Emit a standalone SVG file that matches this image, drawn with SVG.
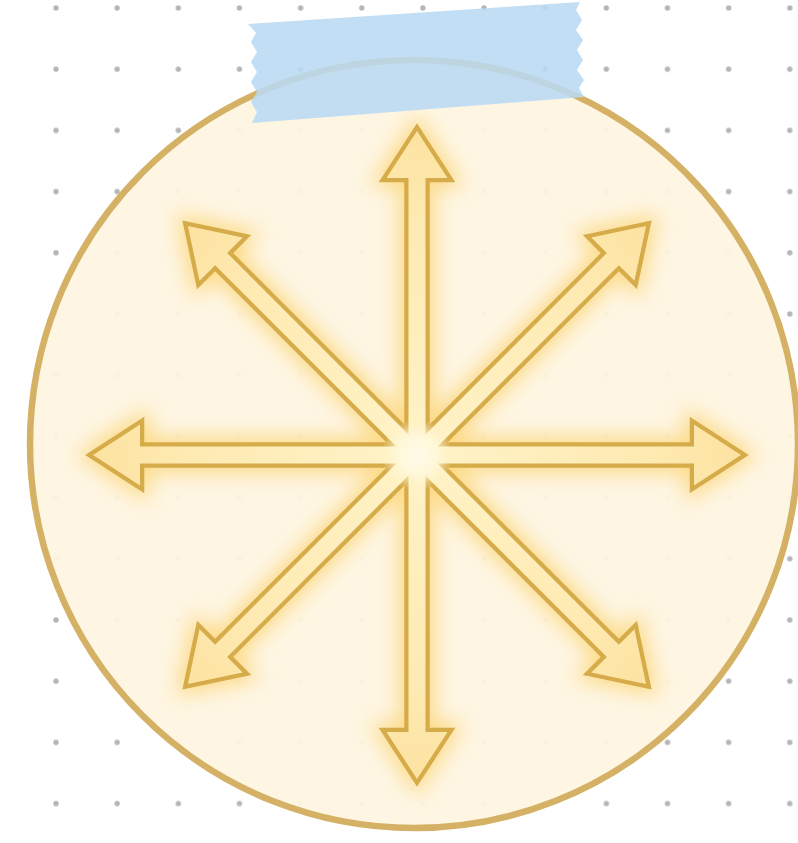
<svg xmlns="http://www.w3.org/2000/svg" width="798" height="843" viewBox="0 0 798 843">
  <defs>
    <pattern id="dots" patternUnits="userSpaceOnUse" x="25.4" y="-22.6" width="61.15" height="61.2">
      <circle cx="30.6" cy="30.6" r="2.7" fill="#b5b5b5"/>
    </pattern>
    <filter id="glow" x="-20%" y="-20%" width="140%" height="140%">
      <feGaussianBlur stdDeviation="10"/>
    </filter>
    <filter id="soft" x="-5%" y="-5%" width="110%" height="110%">
      <feGaussianBlur stdDeviation="0.7"/>
    </filter>
    <radialGradient id="centerGlow" cx="0" cy="0" r="36" gradientUnits="userSpaceOnUse">
      <stop offset="0" stop-color="#fffbea" stop-opacity="1"/>
      <stop offset="0.55" stop-color="#fff8dc" stop-opacity="0.85"/>
      <stop offset="1" stop-color="#fff3c8" stop-opacity="0"/>
    </radialGradient>
    <linearGradient id="arrowFill" x1="0" y1="0" x2="330" y2="0" gradientUnits="userSpaceOnUse">
      <stop offset="0" stop-color="#fff3c8"/>
      <stop offset="0.7" stop-color="#feeab2"/>
      <stop offset="1" stop-color="#fde2a0"/>
    </linearGradient>
    <path id="ray" d="M0,-8.5 L277,-8.5 L277,-30.5 L324,0 L277,30.5 L277,8.5 L0,8.5 Z"/>
    <g id="star">
      <use href="#ray" transform="rotate(-90)"/>
      <use href="#ray" transform="rotate(-45)"/>
      <use href="#ray" transform="rotate(0)"/>
      <use href="#ray" transform="rotate(45)"/>
      <use href="#ray" transform="rotate(90)"/>
      <use href="#ray" transform="rotate(135)"/>
      <use href="#ray" transform="rotate(180)"/>
      <use href="#ray" transform="rotate(225)"/>
    </g>
  </defs>
  <style>
    .bg { fill: #ffffff; }
    .disc { fill: #fef6e2; fill-opacity: 0.95; stroke: #d5b165; stroke-width: 6.5; }
    .outline { fill: #d6ab4a; stroke: #d6ab4a; stroke-width: 8.5; stroke-linejoin: miter; stroke-miterlimit: 10; }
    .halo { fill: #fccf5e; stroke: #fccf5e; stroke-width: 18; opacity: 0.7; }
    .tape { fill: #b9daf2; fill-opacity: 0.88; }
  </style>

  <rect class="bg" x="0" y="0" width="798" height="843"/>
  <rect x="0" y="0" width="798" height="843" fill="url(#dots)"/>

  <g id="disc">
    <circle class="disc" cx="414" cy="444" r="384"/>
  </g>

  <g id="arrows" transform="translate(417,455)">
    <g id="glow-layer" filter="url(#glow)">
      <use href="#star" class="halo"/>
    </g>
    <g id="outline-layer" filter="url(#soft)">
      <use href="#star" class="outline"/>
    </g>
    <g id="fill-layer" fill="url(#arrowFill)">
      <use id="arrow-up" href="#ray" transform="rotate(-90)"/>
      <use id="arrow-up-right" href="#ray" transform="rotate(-45)"/>
      <use id="arrow-right" href="#ray" transform="rotate(0)"/>
      <use id="arrow-down-right" href="#ray" transform="rotate(45)"/>
      <use id="arrow-down" href="#ray" transform="rotate(90)"/>
      <use id="arrow-down-left" href="#ray" transform="rotate(135)"/>
      <use id="arrow-left" href="#ray" transform="rotate(180)"/>
      <use id="arrow-up-left" href="#ray" transform="rotate(225)"/>
    </g>
    <circle cx="0" cy="0" r="36" fill="url(#centerGlow)"/>
  </g>

  <g id="tape">
    <polygon class="tape" points="248,24 580,2 576,10 582,20 576,30 583,40 577,50 583,60 577,70 584,80 579,88 584,97 252,123 257,112 251,102 257,92 251,82 257,72 251,62 257,52 251,42 256,33"/>
  </g>
</svg>
